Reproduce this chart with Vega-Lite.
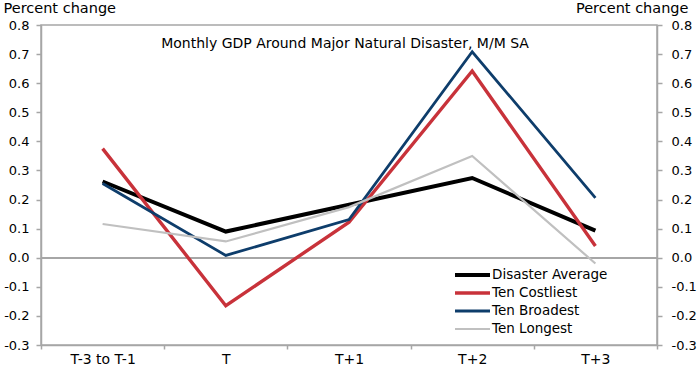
{
  "$schema": "https://vega.github.io/schema/vega-lite/v6.json",
  "width": 616,
  "height": 320,
  "autosize": "none",
  "padding": {"left": 41, "top": 25, "right": 43, "bottom": 23},
  "config": {
    "font": "DejaVu Sans",
    "view": {"stroke": "#a6a6a6", "strokeWidth": 1.5},
    "axis": {
      "domainColor": "#a6a6a6",
      "domainWidth": 1.5,
      "tickColor": "#a6a6a6",
      "tickWidth": 1.5,
      "labelColor": "#000000",
      "labelFontSize": 13,
      "labelFont": "DejaVu Sans",
      "titleFont": "DejaVu Sans",
      "titleFontSize": 14.5,
      "titleFontWeight": "normal",
      "titleColor": "#000000",
      "grid": false
    }
  },
  "title": {
    "text": "Monthly GDP Around Major Natural Disaster, M/M SA",
    "fontSize": 14,
    "fontWeight": "normal",
    "font": "DejaVu Sans",
    "color": "#000000",
    "anchor": "middle",
    "frame": "group",
    "baseline": "middle",
    "offset": 0,
    "dx": -4,
    "dy": 58
  },
  "data": {
    "values": [
      {"series": "Disaster Average", "period": "T-3 to T-1", "value": 0.262},
      {"series": "Disaster Average", "period": "T", "value": 0.09},
      {"series": "Disaster Average", "period": "T+1", "value": 0.182},
      {"series": "Disaster Average", "period": "T+2", "value": 0.274},
      {"series": "Disaster Average", "period": "T+3", "value": 0.093},
      {"series": "Ten Costliest", "period": "T-3 to T-1", "value": 0.375},
      {"series": "Ten Costliest", "period": "T", "value": -0.165},
      {"series": "Ten Costliest", "period": "T+1", "value": 0.122},
      {"series": "Ten Costliest", "period": "T+2", "value": 0.642},
      {"series": "Ten Costliest", "period": "T+3", "value": 0.04},
      {"series": "Ten Broadest", "period": "T-3 to T-1", "value": 0.255},
      {"series": "Ten Broadest", "period": "T", "value": 0.008},
      {"series": "Ten Broadest", "period": "T+1", "value": 0.131},
      {"series": "Ten Broadest", "period": "T+2", "value": 0.708},
      {"series": "Ten Broadest", "period": "T+3", "value": 0.206},
      {"series": "Ten Longest", "period": "T-3 to T-1", "value": 0.116},
      {"series": "Ten Longest", "period": "T", "value": 0.056},
      {"series": "Ten Longest", "period": "T+1", "value": 0.174},
      {"series": "Ten Longest", "period": "T+2", "value": 0.35},
      {"series": "Ten Longest", "period": "T+3", "value": -0.02}
    ]
  },
  "layer": [
    {
      "mark": {"type": "rule", "color": "#a6a6a6", "strokeWidth": 1.5},
      "encoding": {
        "y": {
          "datum": 0,
          "type": "quantitative",
          "scale": {"domain": [-0.3, 0.8], "nice": false, "zero": false},
          "axis": {
            "orient": "left",
            "values": [-0.3, -0.2, -0.1, 0, 0.1, 0.2, 0.3, 0.4, 0.5, 0.6, 0.7, 0.8],
            "labelExpr": "replace(format(datum.value, '.1f'), '\u2212', '-')",
            "tickSize": 5,
            "labelPadding": 7,
            "title": "Percent change",
            "titleAngle": 0,
            "titleAlign": "left",
            "titleBaseline": "middle",
            "titleX": -38,
            "titleY": -17
          }
        }
      }
    },
    {
      "mark": {"type": "line"},
      "encoding": {
        "x": {
          "field": "period",
          "type": "ordinal",
          "sort": ["T-3 to T-1", "T", "T+1", "T+2", "T+3"],
          "scale": {"type": "band", "paddingInner": 0, "paddingOuter": 0},
          "axis": {
            "title": null,
            "labelAngle": 0,
            "labelFontSize": 14,
            "tickBand": "extent",
            "tickSize": 4,
            "labelPadding": 3
          }
        },
        "y": {
          "field": "value",
          "type": "quantitative",
          "scale": {"domain": [-0.3, 0.8], "nice": false, "zero": false},
          "axis": {
            "orient": "right",
            "values": [-0.3, -0.2, -0.1, 0, 0.1, 0.2, 0.3, 0.4, 0.5, 0.6, 0.7, 0.8],
            "labelExpr": "replace(format(datum.value, '.1f'), '\u2212', '-')",
            "tickSize": 5,
            "labelPadding": 9,
            "title": "Percent change",
            "titleAngle": 0,
            "titleAlign": "right",
            "titleBaseline": "middle",
            "titleX": 31,
            "titleY": -17
          }
        },
        "color": {
          "field": "series",
          "type": "nominal",
          "scale": {
            "domain": ["Disaster Average", "Ten Costliest", "Ten Broadest", "Ten Longest"],
            "range": ["#000000", "#c8323a", "#0e3d6b", "#c0c0c0"]
          },
          "legend": {
            "title": null,
            "orient": "none",
            "legendX": 412,
            "legendY": 241,
            "symbolType": "stroke",
            "symbolSize": 1225,
            "clipHeight": 18,
            "labelFontSize": 13.5,
            "labelFont": "DejaVu Sans",
            "labelColor": "#000000",
            "labelOffset": 0,
            "rowPadding": 0
          }
        },
        "strokeWidth": {
          "field": "series",
          "type": "nominal",
          "scale": {
            "domain": ["Disaster Average", "Ten Costliest", "Ten Broadest", "Ten Longest"],
            "range": [4, 2.2, 2.2, 2.2]
          }
        }
      }
    }
  ],
  "resolve": {"scale": {"y": "independent"}}
}
